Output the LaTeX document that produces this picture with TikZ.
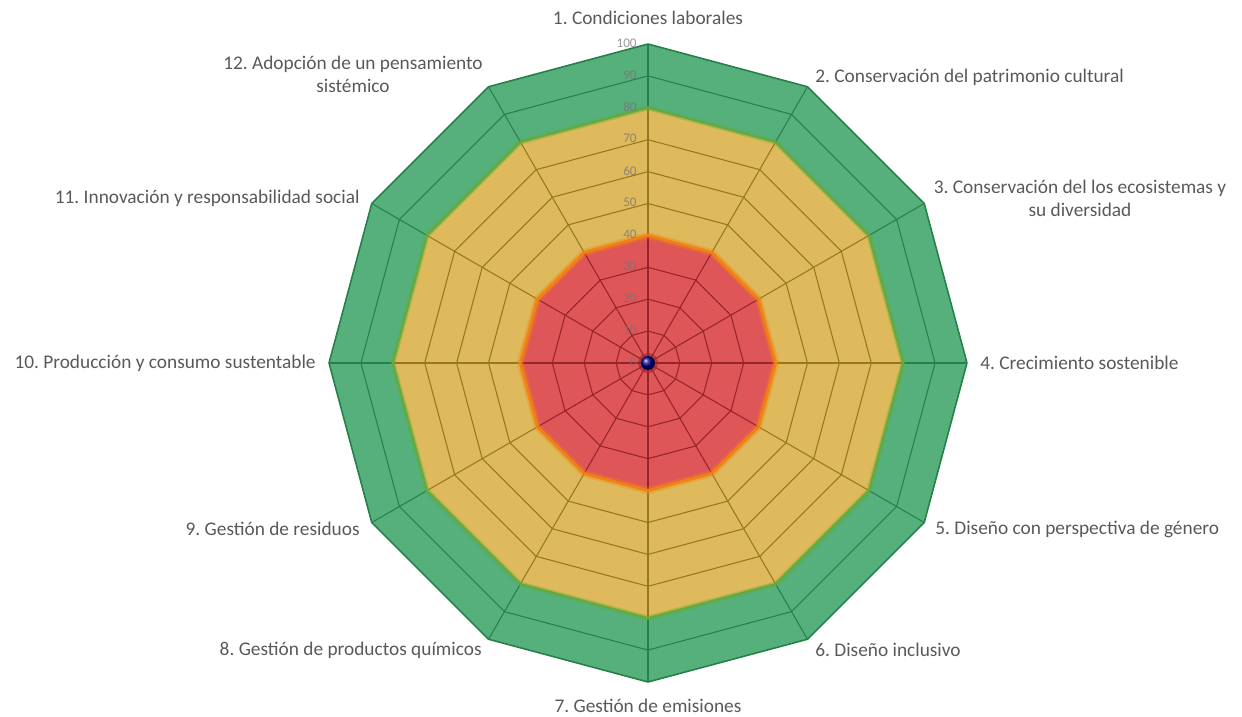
\documentclass[tikz,border=0pt]{standalone}
\usepackage{fontspec}
\setmainfont{Carlito}
\usepackage{xcolor}
\usetikzlibrary{positioning,shapes}
\frenchspacing

\definecolor{zonegreen}{RGB}{86,176,124}
\definecolor{zoneyellow}{RGB}{222,186,92}
\definecolor{zonered}{RGB}{222,86,88}
\definecolor{gridgreen}{RGB}{38,128,72}
\definecolor{gridyellow}{RGB}{150,118,32}
\definecolor{gridred}{RGB}{150,36,42}
\definecolor{rimorange}{RGB}{240,130,20}
\definecolor{rimgreen}{RGB}{100,170,60}
\definecolor{labelgray}{RGB}{89,89,89}

\begin{document}
\begin{tikzpicture}[
        every node/.style = {text=labelgray, font=\fontsize{11}{13}\selectfont},
        crit/.style = {align=center, inner sep=0pt},
        tick/.style = {anchor=east, inner sep=0pt, text=black!55,
            font=\fontsize{7.5}{8}\selectfont, opacity=0.75}]
    \useasboundingbox (-12.96,-7.08) rectangle (11.88,7.26);
    \def\u{0.0638}
    % zones
    \fill[zonegreen] (90:100*\u) \foreach \k in {1,...,11} { -- (90-30*\k:100*\u) } -- cycle;
    \fill[zoneyellow] (90:80*\u) \foreach \k in {1,...,11} { -- (90-30*\k:80*\u) } -- cycle;
    \fill[zonered] (90:40*\u) \foreach \k in {1,...,11} { -- (90-30*\k:40*\u) } -- cycle;
    % grid
    \foreach \v/\c in {10/gridred,20/gridred,30/gridred,50/gridyellow,60/gridyellow,70/gridyellow,90/gridgreen}
        \draw[\c, line width=0.6pt] (90:\v*\u) \foreach \k in {1,...,11} { -- (90-30*\k:\v*\u) } -- cycle;
    \foreach \k in {0,...,11} {
        \draw[gridred, line width=0.6pt] (0,0) -- (90-30*\k:40*\u);
        \draw[gridyellow, line width=0.6pt] (90-30*\k:40*\u) -- (90-30*\k:80*\u);
        \draw[gridgreen, line width=0.6pt] (90-30*\k:80*\u) -- (90-30*\k:100*\u);
    }
    % rims
    \draw[rimorange, line width=4pt, opacity=0.35, line join=round] (90:40*\u) \foreach \k in {1,...,11} { -- (90-30*\k:40*\u) } -- cycle;
    \draw[rimorange, line width=1.6pt, line join=round] (90:40*\u) \foreach \k in {1,...,11} { -- (90-30*\k:40*\u) } -- cycle;
    \draw[rimgreen, line width=3pt, opacity=0.35, line join=round] (90:80*\u) \foreach \k in {1,...,11} { -- (90-30*\k:80*\u) } -- cycle;
    \draw[rimgreen, line width=1.2pt, line join=round] (90:80*\u) \foreach \k in {1,...,11} { -- (90-30*\k:80*\u) } -- cycle;
    \draw[gridgreen, line width=0.9pt, line join=round] (90:100*\u) \foreach \k in {1,...,11} { -- (90-30*\k:100*\u) } -- cycle;
    % ticks
    \foreach \v in {0,10,...,100}
        \node[tick] (t\v) at (-0.22,\v*\u+0.02) {\v};
    % centre
    \fill[gridred, opacity=0.6] (0,0) circle (0.2);
    \shade[ball color=blue!55!black] (0,0) circle (0.14);
    % criteria
    \node[crit] (c1) at (0,6.9) {1. Condiciones laborales};
    \node[crit, anchor=west] (c2) at (3.34,5.72) {2. Conservación del patrimonio cultural};
    \node[crit] (c3) at (8.64,3.3) {3. Conservación del los ecosistemas y\\su diversidad};
    \node[crit, anchor=west] (c4) at (6.64,0) {4. Crecimiento sostenible};
    \node[crit, anchor=west] (c5) at (5.74,-3.32) {5. Diseño con perspectiva de género};
    \node[crit, anchor=west] (c6) at (3.34,-5.74) {6. Diseño inclusivo};
    \node[crit] (c7) at (0,-6.86) {7. Gestión de emisiones};
    \node[crit, anchor=east] (c8) at (-3.32,-5.74) {8. Gestión de productos químicos};
    \node[crit, anchor=east] (c9) at (-5.76,-3.32) {9. Gestión de residuos};
    \node[crit, anchor=east] (c10) at (-6.64,0) {10. Producción y consumo sustentable};
    \node[crit, anchor=east] (c11) at (-5.76,3.3) {11. Innovación y responsabilidad social};
    \node[crit] (c12) at (-5.9,5.78) {12. Adopción de un pensamiento\\sistémico};
\end{tikzpicture}
\end{document}
